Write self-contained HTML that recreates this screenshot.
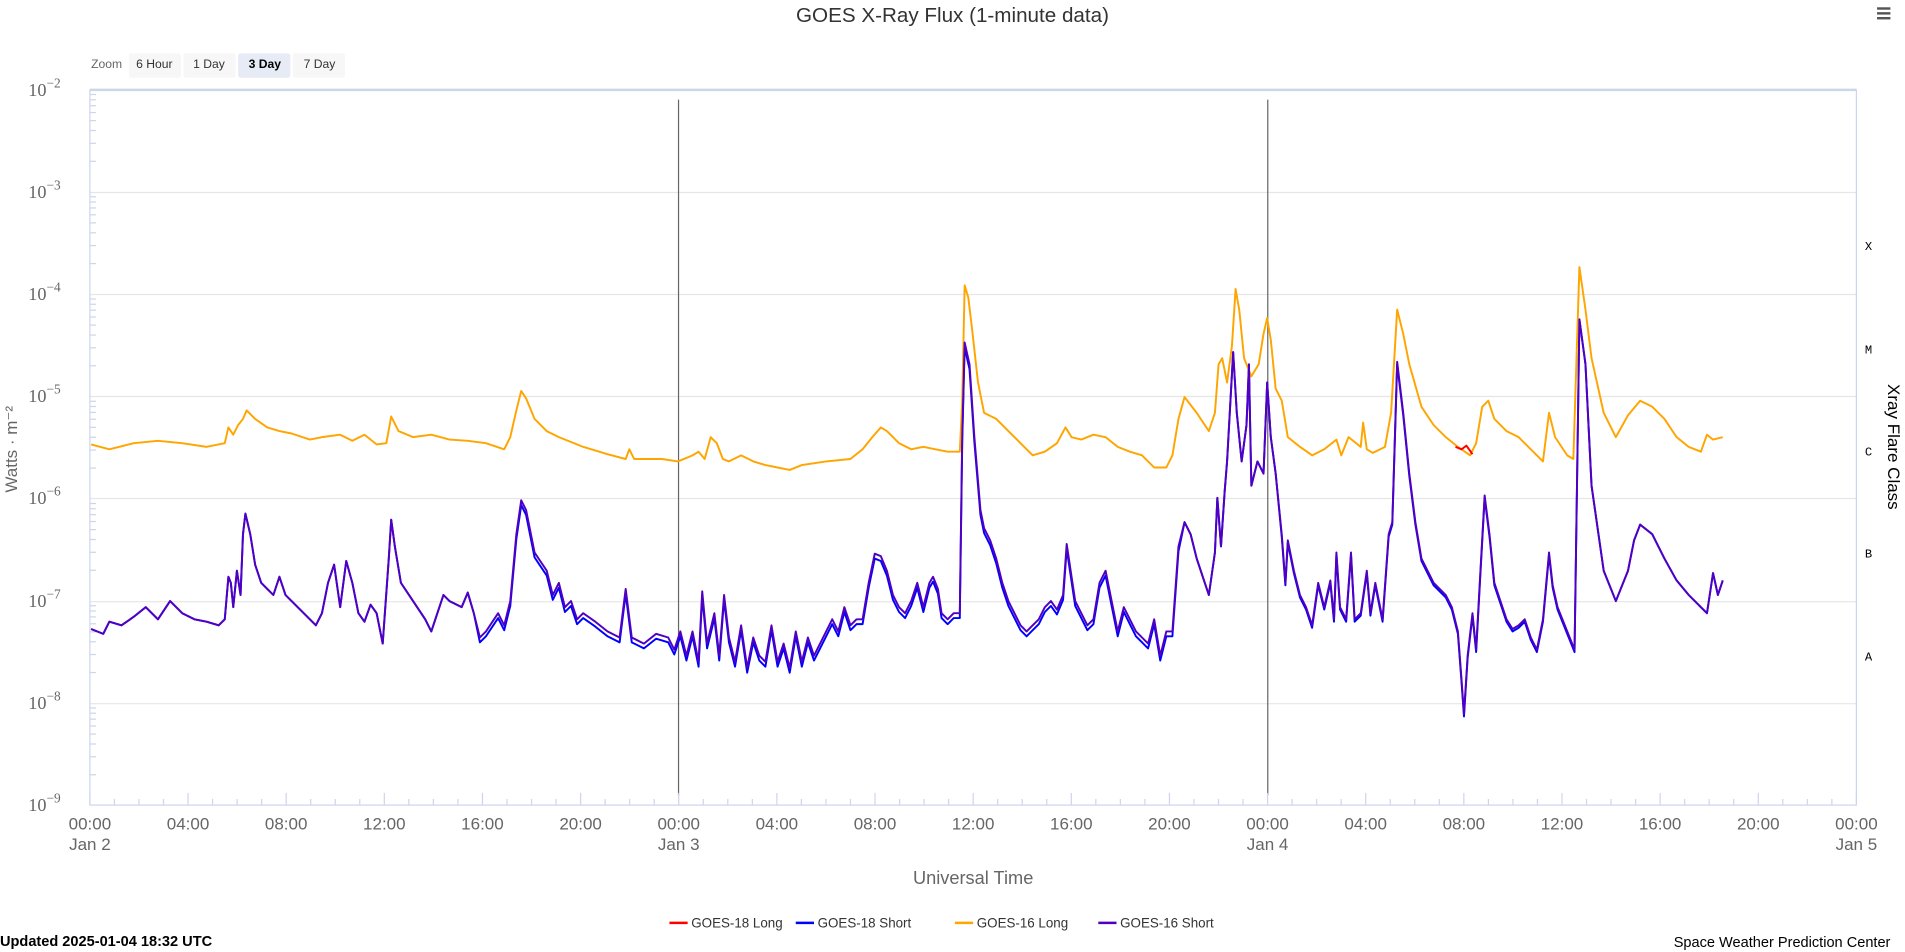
<!DOCTYPE html>
<html><head><meta charset="utf-8"><style>
html,body{margin:0;padding:0;background:#fff;overflow:hidden}
svg{display:block;font-family:"Liberation Sans",sans-serif}
</style></head><body>
<svg width="1905" height="952" viewBox="0 0 1568 784" preserveAspectRatio="none" xmlns="http://www.w3.org/2000/svg">
<text x="784" y="18" text-anchor="middle" font-size="17" fill="#333">GOES X-Ray Flux (1-minute data)</text>
<g fill="#555"><rect x="1545" y="6" width="11" height="2"/><rect x="1545" y="10" width="11" height="2"/><rect x="1545" y="14" width="11" height="2"/></g>
<text x="75" y="56" font-size="10" fill="#666">Zoom</text>
<rect x="106" y="44" width="43" height="20" rx="2" fill="#f7f7f7"/><text x="127" y="56" text-anchor="middle" font-size="10" fill="#333">6 Hour</text>
<rect x="151" y="44" width="43" height="20" rx="2" fill="#f7f7f7"/><text x="172" y="56" text-anchor="middle" font-size="10" fill="#333">1 Day</text>
<rect x="196" y="44" width="43" height="20" rx="2" fill="#e6ebf5"/><text x="218" y="56" text-anchor="middle" font-size="10" font-weight="bold" fill="#000">3 Day</text>
<rect x="241" y="44" width="43" height="20" rx="2" fill="#f7f7f7"/><text x="263" y="56" text-anchor="middle" font-size="10" fill="#333">7 Day</text>
<g stroke="#e6e6e6" stroke-width="1">
<line x1="74" x2="1528" y1="158.5" y2="158.5"/><line x1="74" x2="1528" y1="242.5" y2="242.5"/><line x1="74" x2="1528" y1="326.5" y2="326.5"/><line x1="74" x2="1528" y1="410.5" y2="410.5"/><line x1="74" x2="1528" y1="495.5" y2="495.5"/><line x1="74" x2="1528" y1="579.5" y2="579.5"/>
</g>
<rect x="74" y="74" width="1454" height="589" fill="none" stroke="#ccd6eb" stroke-width="1"/>
<line x1="74" x2="1528" y1="74" y2="74" stroke="#ccd6eb" stroke-width="2"/>
<g stroke="#666" stroke-width="1"><line x1="558.5" x2="558.5" y1="82" y2="655"/><line x1="1043.5" x2="1043.5" y1="82" y2="655"/></g>
<g font-size="15" fill="#666" text-anchor="end" font-family="Liberation Serif,serif">
<text x="50" y="79">10<tspan dy="-7" font-size="11">−2</tspan></text>
<text x="50" y="163">10<tspan dy="-7" font-size="11">−3</tspan></text>
<text x="50" y="247">10<tspan dy="-7" font-size="11">−4</tspan></text>
<text x="50" y="331">10<tspan dy="-7" font-size="11">−5</tspan></text>
<text x="50" y="415">10<tspan dy="-7" font-size="11">−6</tspan></text>
<text x="50" y="500">10<tspan dy="-7" font-size="11">−7</tspan></text>
<text x="50" y="584">10<tspan dy="-7" font-size="11">−8</tspan></text>
<text x="50" y="668">10<tspan dy="-7" font-size="11">−9</tspan></text>
</g>
<text transform="translate(14,370) rotate(-90)" text-anchor="middle" font-size="14" fill="#666">Watts · m⁻²</text>
<g font-size="10" fill="#000" font-family="Liberation Mono,monospace"><text x="1535" y="206">X</text><text x="1535" y="291">M</text><text x="1535" y="375">C</text><text x="1535" y="459">B</text><text x="1535" y="544">A</text></g>
<text transform="translate(1554,368) rotate(90)" text-anchor="middle" font-size="14" fill="#000">Xray Flare Class</text>
<g id="ticks" stroke="#ccd6eb" stroke-width="1"></g>
<g id="xl" font-size="14" fill="#666" text-anchor="middle"></g>
<text x="801" y="728" text-anchor="middle" font-size="15" fill="#666">Universal Time</text>
<g id="series" fill="none" stroke-width="1.6" stroke-linejoin="round"></g>
<g font-size="11" fill="#333">
<line x1="551" x2="566" y1="760" y2="760" stroke="#f00" stroke-width="2"/><text x="569" y="764">GOES-18 Long</text>
<line x1="655" x2="670" y1="760" y2="760" stroke="#00f" stroke-width="2"/><text x="673" y="764">GOES-18 Short</text>
<line x1="786" x2="801" y1="760" y2="760" stroke="#ffa500" stroke-width="2"/><text x="804" y="764">GOES-16 Long</text>
<line x1="904" x2="919" y1="760" y2="760" stroke="#5000c0" stroke-width="2"/><text x="922" y="764">GOES-16 Short</text>
</g>
<text x="0" y="779" font-size="12" font-weight="bold" fill="#000">Updated 2025-01-04 18:32 UTC</text>
<text x="1556" y="780" text-anchor="end" font-size="12" fill="#000">Space Weather Prediction Center</text>
</svg>
<script>
const NS="http://www.w3.org/2000/svg";
const tk=document.getElementById('ticks'),xl=document.getElementById('xl');
for(let h=0;h<=72;h++){const x=74+h*1454/72;const l=document.createElementNS(NS,'line');l.setAttribute('x1',x);l.setAttribute('x2',x);l.setAttribute('y1',663);l.setAttribute('y2',h%4?658:653);tk.appendChild(l);
if(h%4==0){const t=document.createElementNS(NS,'text');t.setAttribute('x',x);t.setAttribute('y',683);t.textContent=String(h%24).padStart(2,'0')+':00';xl.appendChild(t);
if(h%24==0){const d=document.createElementNS(NS,'text');d.setAttribute('x',x);d.setAttribute('y',700);d.textContent='Jan '+(2+h/24);xl.appendChild(d);}}}
for(let d=0;d<7;d++){for(let k=2;k<10;k++){const y=74+84.2*(d+1)-Math.log10(k)*84.2;const l=document.createElementNS(NS,'line');l.setAttribute('x1',74);l.setAttribute('x2',79);l.setAttribute('y1',y);l.setAttribute('y2',y);tk.appendChild(l);}}
const O=[75,366,90,370,110,365,130,363,150,365,170,368,185,365,188,352,192,358,196,350,200,345,203,338,210,345,220,352,230,355,240,357,255,362,265,360,280,358,290,363,300,358,310,366,318,365,322,343,328,355,340,360,355,358,370,362,385,363,400,365,415,370,420,360,425,338,429,322,433,328,440,345,450,355,460,360,480,368,500,374,515,378,518,370,522,378,530,378,545,378,558,380,570,375,575,372,580,378,585,360,590,365,595,378,600,380,610,375,620,380,630,383,640,385,650,387,660,383,680,380,700,378,710,370,718,360,725,352,730,355,740,365,750,370,760,368,770,370,780,372,790,372,792,330,794,235,797,245,800,270,805,315,810,340,820,345,830,355,840,365,850,375,860,372,870,365,877,352,882,360,890,362,900,358,910,360,920,368,930,372,940,375,950,385,960,385,965,375,970,345,975,327,985,340,995,355,1000,340,1003,300,1006,295,1010,315,1014,285,1017,238,1020,255,1024,295,1030,310,1036,300,1040,275,1043,262,1046,280,1050,320,1055,330,1060,360,1070,368,1080,375,1090,370,1100,362,1104,375,1110,360,1120,368,1122,348,1125,370,1130,373,1140,368,1145,340,1150,255,1155,275,1160,300,1170,335,1180,350,1190,360,1200,368,1210,375,1215,365,1220,335,1225,330,1230,345,1240,355,1250,360,1260,370,1270,380,1275,340,1280,360,1290,375,1295,378,1300,220,1305,255,1310,295,1320,340,1330,360,1340,342,1350,330,1360,335,1370,345,1380,360,1390,368,1400,372,1405,358,1410,362,1418,360];
const P=[75,518,85,522,90,512,100,515,110,508,120,500,130,510,140,495,150,505,160,510,170,512,180,515,185,510,188,475,190,480,192,500,195,470,198,490,200,440,202,423,206,440,210,465,215,480,220,485,225,490,230,475,235,490,240,495,250,505,260,515,265,505,270,480,275,465,280,500,285,462,290,480,295,505,300,512,305,498,310,505,315,530,320,460,322,428,325,450,330,480,340,495,350,510,355,520,360,505,365,490,370,495,380,500,385,488,390,505,395,525,400,520,410,505,415,515,420,495,425,440,429,412,433,420,440,455,450,470,455,490,460,480,465,500,470,495,475,510,480,505,490,512,500,520,510,525,515,485,520,525,530,530,540,522,550,525,555,535,560,520,565,540,570,520,575,545,578,487,582,530,588,505,592,540,596,490,600,525,605,545,610,515,615,550,620,525,625,540,630,545,635,515,640,545,645,530,650,550,655,520,660,545,665,525,670,540,675,530,680,520,685,510,690,520,695,500,700,515,705,510,710,510,715,480,720,456,725,458,730,470,735,490,740,500,745,505,750,495,755,480,760,500,765,480,768,475,772,485,775,505,780,510,785,505,790,505,792,360,794,282,798,300,802,360,807,420,810,435,815,445,820,460,825,480,830,495,835,505,840,515,845,520,850,515,855,510,860,500,865,495,870,502,875,490,878,448,882,475,885,495,890,505,895,515,900,510,905,480,910,470,915,495,920,520,925,500,930,510,935,520,940,525,945,530,950,510,955,540,960,520,965,520,970,450,975,430,980,440,985,460,990,475,995,490,1000,455,1002,410,1005,450,1008,405,1010,380,1015,290,1018,340,1022,380,1026,350,1028,300,1030,400,1035,380,1040,390,1043,315,1046,360,1050,390,1055,440,1058,480,1060,445,1065,470,1070,490,1075,500,1080,515,1085,480,1090,500,1095,478,1098,510,1100,455,1103,500,1108,510,1112,455,1115,510,1120,505,1125,470,1128,505,1132,480,1138,510,1143,440,1146,430,1150,298,1155,340,1160,390,1165,430,1170,460,1180,480,1190,490,1195,500,1200,520,1203,560,1205,588,1208,540,1212,505,1215,535,1218,480,1222,408,1226,440,1230,480,1235,495,1240,510,1245,518,1250,515,1255,510,1260,525,1265,535,1270,510,1275,455,1278,482,1282,500,1286,510,1292,525,1296,535,1298,400,1300,263,1305,300,1310,400,1320,470,1330,495,1340,470,1345,445,1350,432,1360,440,1370,460,1380,478,1390,490,1400,500,1405,505,1410,472,1414,490,1418,478];
function pts(a,dy){let s=[];for(let i=0;i<a.length;i+=2)s.push(a[i]+','+(a[i+1]+(dy?dy(a[i]):0)));return s.join(' ');}
const g=document.getElementById('series');
function pl(p,c){const e=document.createElementNS(NS,'polyline');e.setAttribute('points',p);e.setAttribute('stroke',c);g.appendChild(e);}
pl(pts(P,x=>x>390&&x<975?4:(x>1050&&x<1300?2:0)),'#0000ff');
pl(pts(O),'#ffa500');
pl('1198,368 1203,370 1207,367 1212,374','#ff0000');
pl(pts(P),'#5000c0');
</script>
</body></html>
